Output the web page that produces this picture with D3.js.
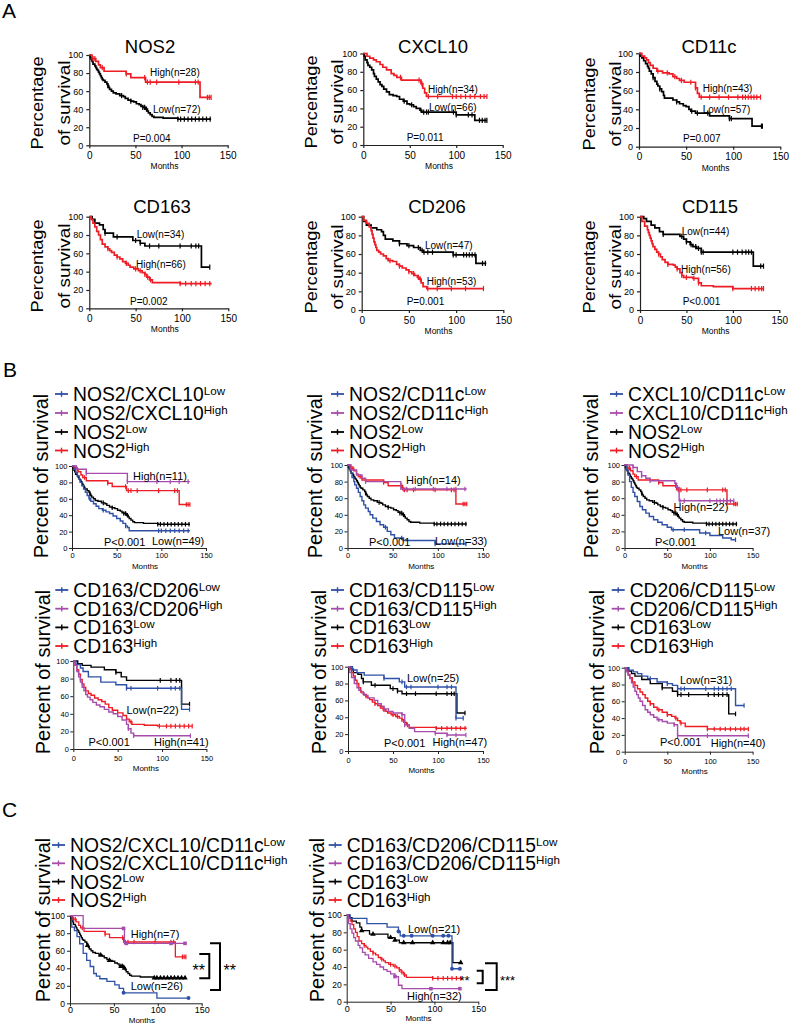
<!DOCTYPE html>
<html><head><meta charset="utf-8">
<script src="https://cdn.jsdelivr.net/npm/d3@7/dist/d3.min.js"></script>
<style>body{margin:0;background:#fff}svg{display:block}text{font-family:"Liberation Sans",Arial,sans-serif;fill:#000}</style>
</head><body><svg id="c" width="789" height="1025"></svg>
<script>
// ---------------- DATA ----------------
const xTicks = [0, 50, 100, 150];
const yTicks = [0, 20, 40, 60, 80, 100];
const sectionLetters = ["A", "B", "C"];

const titlesA = ["NOS2", "CXCL10", "CD11c", "CD163", "CD206", "CD115"];
const pTextsA = ["P=0.004", "P=0.011", "P=0.007", "P=0.002", "P=0.001", "P<0.001"];
const highLabelsA = ["High(n=28)", "High(n=34)", "High(n=43)", "High(n=66)", "High(n=53)", "High(n=56)"];
const lowLabelsA = ["Low(n=72)", "Low(n=66)", "Low(n=57)", "Low(n=34)", "Low(n=47)", "Low(n=44)"];

const legendNamesB = [["NOS2/CXCL10", "NOS2"], ["NOS2/CD11c", "NOS2"], ["CXCL10/CD11c", "NOS2"],
                      ["CD163/CD206", "CD163"], ["CD163/CD115", "CD163"], ["CD206/CD115", "CD163"]];
const highLabelsB = ["High(n=11)", "High(n=14)", "High(n=22)", "High(n=41)", "High(n=47)", "High(n=40)"];
const lowLabelsB = ["Low(n=49)", "Low(n=33)", "Low(n=37)", "Low(n=22)", "Low(n=25)", "Low(n=31)"];
const pTextsB = ["P<0.001", "P<0.001", "P<0.001", "P<0.001", "P<0.001", "P<0.001"];

const legendNamesC = [["NOS2/CXCL10/CD11c", "NOS2"], ["CD163/CD206/CD115", "CD163"]];
const highLabelsC = ["High(n=7)", "High(n=32)"];
const lowLabelsC = ["Low(n=26)", "Low(n=21)"];
const sigC = [["**", "**"], ["**", "***"]];

// Kaplan-Meier steps: [month, % survival]
const nos2High = [[0,100],[3,96],[7,93],[10,89],[12,86],[16,82],[40,79],[45,75],[61,70],[120,53],[132,53]];
const nos2HighCens = [4,6,14,40,60,63,66,73,97,115,118,128,130,132];
const nos2Low = [[0,100],[1,97],[2,95],[3,93],[4,90],[6,88],[7,86],[8,84],[9,83],[10,81],[11,79],[12,77],[13,75],[14,73],[15,72],[17,70],[19,68],[20,66],[21,64],[22,62],[24,60],[26,58],[29,57],[33,55],[37,54],[39,52],[42,50],[45,49],[48,48],[51,46],[54,45],[56,43],[58,42],[61,40],[63,38],[64,36],[66,34],[68,32],[70,31],[80,30],[96,29],[132,29]];
const nos2LowCens = [20,35,45,58,60,62,96,99,103,107,111,115,119,123,127,131];

const cxHigh = [[0,100],[4,97],[7,95],[11,93],[14,91],[18,88],[21,85],[25,82],[30,78],[33,76],[36,74],[41,71],[62,67],[64,62],[66,57],[68,53],[133,53]];
const cxHighCens = [40,60,63,70,80,96,100,105,110,115,120,126,130,133];
const cxLow = [[0,100],[1,97],[2,93],[4,90],[5,87],[7,85],[9,82],[11,78],[12,75],[14,72],[16,69],[18,66],[20,64],[22,61],[25,58],[28,55],[32,54],[36,53],[39,50],[43,48],[47,45],[50,44],[54,42],[57,40],[61,38],[63,36],[100,33],[120,27],[133,27]];
const cxLowCens = [44,52,62,65,68,70,97,100,113,117,125,128,131,133];

const cd11High = [[0,100],[3,97],[6,95],[8,93],[10,90],[12,87],[15,84],[19,81],[25,79],[32,78],[36,75],[40,73],[43,71],[48,69],[60,63],[62,57],[64,53],[129,53]];
const cd11HighCens = [20,30,38,45,55,60,66,75,85,95,105,110,113,116,119,122,125,129];
const cd11Low = [[0,100],[1,97],[3,95],[5,92],[7,89],[9,86],[10,84],[11,81],[13,78],[15,74],[17,70],[19,67],[20,65],[22,62],[24,59],[26,55],[27,52],[36,50],[40,48],[43,46],[47,44],[50,43],[53,40],[55,38],[60,36],[75,33],[96,30],[120,22],[131,22]];
const cd11LowCens = [15,22,40,56,62,73,96,98,130,131];

const cd163Low = [[0,100],[3,97],[6,93],[11,91],[15,86],[17,82],[26,78],[47,74],[55,71],[60,68],[121,45],[130,45]];
const cd163LowCens = [17,30,50,55,65,75,98,110,115,118,130];
const cd163High = [[0,100],[2,97],[4,93],[6,89],[8,84],[10,80],[12,75],[14,70],[17,67],[20,65],[22,63],[24,61],[27,58],[30,56],[33,54],[36,51],[39,49],[42,47],[44,45],[48,43],[53,41],[57,39],[60,37],[62,34],[65,31],[68,28],[98,27],[132,27]];
const cd163HighCens = [20,30,40,50,55,60,63,66,98,104,110,115,120,125,130];

const cd206Low = [[0,100],[2,95],[5,91],[10,88],[16,86],[21,84],[23,80],[25,76],[33,74],[40,71],[48,69],[55,67],[62,64],[65,62],[97,59],[121,50],[132,50]];
const cd206LowCens = [40,50,60,64,66,70,75,97,100,108,111,114,117,120,128,131];
const cd206High = [[0,100],[2,96],[5,93],[8,89],[10,85],[11,81],[12,77],[13,73],[14,70],[15,67],[16,64],[18,62],[20,60],[23,58],[26,55],[28,53],[33,52],[37,49],[40,47],[43,45],[47,43],[50,41],[53,39],[56,37],[59,35],[61,33],[63,29],[65,25],[69,23],[129,23]];
const cd206HighCens = [30,40,50,55,60,62,70,80,95,110,129];

const cd115Low = [[0,100],[4,98],[7,95],[12,91],[16,88],[21,84],[25,81],[43,79],[47,76],[50,73],[54,70],[57,68],[61,66],[66,62],[122,47],[133,47]];
const cd115LowCens = [25,45,50,55,60,63,66,68,100,105,110,114,117,120,130,133];
const cd115High = [[0,100],[2,95],[5,90],[8,86],[9,83],[10,80],[11,77],[12,74],[13,71],[14,68],[16,65],[18,62],[20,60],[22,57],[24,54],[27,51],[30,49],[36,48],[38,46],[40,44],[43,40],[45,37],[47,35],[57,34],[63,29],[66,26],[79,25],[100,23],[133,23]];
const cd115HighCens = [20,30,40,45,50,58,63,100,120,124,128,131,133];

const b1High = [[0,100],[5,96],[16,91],[62,81],[132,81]];
const b1HighCens = [16,62,95,110,120,130];
const b1Low = [[0,100],[2,96],[4,92],[6,88],[8,84],[9,80],[11,76],[13,72],[15,68],[17,64],[19,60],[21,57],[24,54],[27,51],[30,48],[34,46],[38,44],[42,42],[46,39],[50,36],[54,33],[57,30],[60,27],[62,25],[64,21],[132,21]];
const b1LowCens = [20,35,60,97,100,105,110,115,120,125,130];

const b2High = [[0,100],[4,94],[10,88],[16,84],[20,80],[59,71],[132,71]];
const b2HighCens = [20,62,65,75,95,110,120,130];
const b2Low = [[0,100],[2,95],[4,90],[5,85],[7,80],[8,76],[10,72],[12,67],[14,62],[16,57],[18,52],[20,48],[23,44],[25,40],[28,36],[32,32],[36,28],[40,25],[44,20],[48,16],[52,12],[62,9],[97,5],[132,5]];
const b2LowCens = [42,60,97,131];

const b3High = [[0,100],[10,97],[15,92],[20,87],[25,84],[30,81],[59,78],[61,73],[64,57],[128,57]];
const b3HighCens = [10,20,30,62,65,70,100,108,112,116,120,124,128];
const b3Low = [[0,100],[2,94],[4,88],[6,80],[8,73],[10,67],[12,62],[15,56],[18,50],[21,46],[25,42],[29,38],[34,34],[39,31],[44,28],[50,25],[55,22],[88,18],[100,15],[115,12],[125,10],[130,10]];
const b3LowCens = [57,70,95,130];

const b4Low = [[0,100],[3,96],[8,92],[11,88],[17,82],[31,76],[48,73],[60,69],[122,45],[131,45]];
const b4LowCens = [60,65,95,110,115,120,131];
const b4Ref = [[0,100],[5,97],[10,95],[20,93],[35,90],[48,87],[54,82],[60,78],[122,51],[131,51]];
const b4RefCens = [48,98,110,116,120,131];
const b4RefHigh = [[0,100],[2,95],[4,90],[6,85],[8,79],[10,74],[12,70],[14,66],[17,63],[20,61],[24,58],[28,56],[32,54],[36,51],[40,47],[44,44],[50,41],[56,38],[60,34],[63,31],[66,28],[80,27],[95,26],[134,26]];
const b4RefHighCens = [60,65,97,105,110,115,120,125,130,134];
const b4High = [[0,100],[2,95],[4,88],[6,82],[8,76],[10,70],[12,66],[14,62],[16,59],[19,56],[22,53],[26,50],[30,48],[35,45],[40,42],[45,40],[50,37],[55,33],[60,28],[62,23],[65,18],[68,15],[132,15]];
const b4HighCens = [62,68,132];

const b5Low = [[0,100],[5,96],[10,93],[18,90],[40,86],[57,82],[63,76],[120,39],[128,39]];
const b5LowCens = [40,60,65,70,100,110,115,120,128];
const b5High = [[0,100],[2,93],[4,87],[7,80],[10,75],[12,72],[15,69],[18,66],[22,63],[29,60],[33,56],[37,53],[40,50],[45,47],[50,45],[60,43],[63,31],[68,27],[74,23],[97,21],[110,19],[131,19]];
const b5HighCens = [40,60,63,97,110,120,131];

const b6Low = [[0,100],[5,97],[10,95],[15,93],[20,90],[27,87],[38,83],[50,81],[56,79],[62,75],[130,55],[140,55]];
const b6LowCens = [30,50,62,66,70,95,105,110,115,120,125,140];
const b6Ref = [[0,100],[4,96],[8,93],[12,90],[20,86],[30,81],[44,76],[56,72],[62,68],[122,45],[130,45]];
const b6RefCens = [44,62,66,75,98,105,110,115,120,130];
const b6RefHigh = [[0,100],[2,96],[4,92],[6,88],[9,83],[12,79],[15,75],[18,71],[21,68],[24,64],[27,60],[30,57],[34,53],[38,50],[44,47],[50,44],[55,42],[59,40],[62,37],[65,34],[71,30],[97,27],[145,27]];
const b6RefHighCens = [30,40,50,60,66,97,105,112,118,124,130,136,140,145];
const b6High = [[0,100],[2,95],[4,91],[6,87],[8,82],[10,77],[12,72],[14,68],[16,64],[18,60],[21,55],[24,50],[27,47],[30,44],[34,41],[38,38],[44,36],[50,34],[58,32],[62,19],[145,19]];
const b6HighCens = [40,58,62,97,145];

const c1High = [[0,100],[15,85.5],[62,68.4],[131,68.4]];
const c1HighCens = [61,64,115,131];
const c1Low = [[0,100],[2,87],[5,83],[8,76],[11,68],[15,57],[19,49],[23,42],[27,34],[30,31],[34,28],[42,25],[51,21],[56,17],[61,12],[99,6],[135,6]];
const c1LowCens = [61,135];

const c2Low = [[0,100],[4,96],[23,90],[46,86],[59,81],[61,76],[120,38],[129,38]];
const c2LowCens = [59,65,74,98,110,116,120,129];
const c2High = [[0,100],[2,90],[4,84],[6,79],[8,74],[10,70],[13,65],[15,62],[18,57],[21,54],[25,50],[30,46],[34,43],[38,40],[42,37],[46,35],[50,32],[55,29],[59,19],[63,15],[129,15]];
const c2HighCens = [55,96,129];

// ---------------- DRAWING ----------------
const svg = d3.select("#c");
const RED = "#ee1c24", BLK = "#000000", BLUE = "#2e50a6", PURP = "#a64cab";
const FONT = '"Liberation Sans", Arial, sans-serif';

function sAt(pts, t) { let v = pts[0][1]; for (const p of pts) { if (p[0] <= t) v = p[1]; else break; } return v; }

function drawPanel(cfg, st) {
  const g = svg.append("g");
  const x = d3.scaleLinear().domain([0, 150]).range([cfg.x0, cfg.x1]);
  const y = d3.scaleLinear().domain([0, 100]).range([cfg.yBot, cfg.yTop]);
  const ax = g.append("g").attr("transform", `translate(0,${cfg.yBot})`)
    .call(d3.axisBottom(x).tickValues(xTicks).tickSize(3).tickSizeOuter(0)
      .tickPadding(st.xOff - 3 - 0.71 * st.xFs));
  const ay = g.append("g").attr("transform", `translate(${cfg.x0},0)`)
    .call(d3.axisLeft(y).tickValues(yTicks).tickSize(3).tickSizeOuter(0).tickPadding(st.yPad));
  [ax, ay].forEach(a => {
    a.select(".domain").attr("stroke", "#222").attr("stroke-width", st.axW);
    a.selectAll(".tick line").attr("stroke", "#222").attr("stroke-width", st.axW);
    a.selectAll("text").attr("font-family", FONT).attr("fill", "#111");
  });
  ax.selectAll("text").attr("font-size", st.xFs);
  ay.selectAll("text").attr("font-size", st.yFs);
  g.append("text").attr("x", (cfg.x0 + cfg.x1) / 2 + 6).attr("y", cfg.yBot + st.mOff)
    .attr("text-anchor", "middle").attr("font-size", st.mFs).text("Months");

  const line = d3.line().x(d => x(d[0])).y(d => y(d[1])).curve(d3.curveStepAfter);
  cfg.curves.forEach(c => {
    g.append("path").attr("d", line(c.pts)).attr("fill", "none")
      .attr("stroke", c.color).attr("stroke-width", st.lw);
    c.cens.forEach(t => {
      const cx = x(t), cy = y(sAt(c.pts, t));
      if (st.sym && c.sym) {
        g.append("path").attr("transform", `translate(${cx},${cy})`)
          .attr("d", d3.symbol().type(c.sym).size(c.sym === d3.symbolCircle ? 12 : 13)())
          .attr("fill", c.color);
      } else {
        g.append("line").attr("x1", cx).attr("x2", cx).attr("y1", cy - st.ch).attr("y2", cy + st.ch)
          .attr("stroke", c.color).attr("stroke-width", 1.2);
      }
    });
  });
  return { x, y };
}

function txt(x, y, s, fs, anchor) {
  return svg.append("text").attr("x", x).attr("y", y).attr("font-size", fs)
    .attr("text-anchor", anchor || "start").text(s);
}
function vlabel(x, cy, s, fs, len) {
  const t = svg.append("text").attr("transform", `translate(${x},${cy}) rotate(-90)`)
    .attr("text-anchor", "middle").attr("font-size", fs).text(s);
  if (len) t.attr("textLength", len).attr("lengthAdjust", "spacingAndGlyphs");
  return t;
}
function legend(xText, bases, items) {
  items.forEach((it, i) => {
    const b = bases[i], ly = b - 7;
    svg.append("line").attr("x1", xText - 18).attr("x2", xText - 5).attr("y1", ly).attr("y2", ly)
      .attr("stroke", it.color).attr("stroke-width", 1.8);
    svg.append("line").attr("x1", xText - 11.5).attr("x2", xText - 11.5).attr("y1", ly - 2.8).attr("y2", ly + 2.8)
      .attr("stroke", it.color).attr("stroke-width", 1.4);
    const t = svg.append("text").attr("x", xText).attr("y", b).attr("font-size", 19.3);
    t.append("tspan").text(it.main);
    t.append("tspan").attr("font-size", 11.6).attr("dy", -6.5).text(it.sup);
  });
}

// Section letters
txt(2, 18, sectionLetters[0], 21);
txt(3, 377, sectionLetters[1], 21);
txt(2, 817, sectionLetters[2], 21);

// ---- Section A ----
const stA = { xFs: 10, yFs: 9, mFs: 8.5, xOff: 13.5, mOff: 24, yPad: 3, axW: 1.2, lw: 1.7, ch: 2.6 };
const layA = [
  { x0: 89.3, x1: 227.7, yTop: 55, yBot: 145.3, tx: 150, ty: 53, hi: [150, 75.5], lo: [153, 113], p: [133, 141.7], yl: [43, 70, 103] },
  { x0: 363.3, x1: 502.7, yTop: 53.5, yBot: 145, tx: 433, ty: 53, hi: [428, 92.5], lo: [429, 111], p: [406.7, 141], yl: [317, 343, 102] },
  { x0: 639, x1: 780.3, yTop: 53.3, yBot: 146.7, tx: 709, ty: 53, hi: [702.7, 91.5], lo: [702.7, 113], p: [683, 142], yl: [595, 621, 104] },
  { x0: 89.3, x1: 228.3, yTop: 216.7, yBot: 308.3, tx: 162, ty: 213, hi: [136, 267.7], lo: [136.7, 238], p: [130, 305], yl: [43, 70, 266] },
  { x0: 361.7, x1: 503.3, yTop: 216.7, yBot: 310, tx: 437, ty: 213, hi: [426.7, 285], lo: [425, 249], p: [406.7, 305], yl: [317, 343, 267] },
  { x0: 640, x1: 779.3, yTop: 216.7, yBot: 310, tx: 710, ty: 213, hi: [681, 273], lo: [681.7, 235], p: [682.7, 305], yl: [595, 621, 267] }
];
const curvesA = [
  [[nos2Low, nos2LowCens, BLK], [nos2High, nos2HighCens, RED]],
  [[cxLow, cxLowCens, BLK], [cxHigh, cxHighCens, RED]],
  [[cd11Low, cd11LowCens, BLK], [cd11High, cd11HighCens, RED]],
  [[cd163Low, cd163LowCens, BLK], [cd163High, cd163HighCens, RED]],
  [[cd206Low, cd206LowCens, BLK], [cd206High, cd206HighCens, RED]],
  [[cd115Low, cd115LowCens, BLK], [cd115High, cd115HighCens, RED]]
];
layA.forEach((L, i) => {
  drawPanel({ ...L, curves: curvesA[i].map(c => ({ pts: c[0], cens: c[1], color: c[2] })) }, stA);
  txt(L.tx, L.ty, titlesA[i], 18.5, "middle");
  txt(L.hi[0], L.hi[1], highLabelsA[i], 10);
  txt(L.lo[0], L.lo[1], lowLabelsA[i], 10);
  txt(L.p[0], L.p[1], pTextsA[i], 10);
  vlabel(L.yl[0], L.yl[2], "Percentage", 16, 93);
  vlabel(L.yl[1], L.yl[2], "of survival", 16, 85);
});

// ---- Section B ----
const stB1 = { xFs: 7.5, yFs: 7.5, mFs: 8, xOff: 10, mOff: 21, yPad: 1.5, axW: 1, lw: 1.4, ch: 2.3 };
const stB2 = { ...stB1, xOff: 12, mOff: 22 };
const layB = [
  { x0: 72, x1: 206, yTop: 466, yBot: 548, lg: 73, hi: [133, 480], lo: [152, 545], p: [104, 546], yl: [48, 476] },
  { x0: 347.5, x1: 483, yTop: 465, yBot: 548, lg: 349, hi: [406, 484], lo: [435, 545], p: [369, 546], yl: [322, 476] },
  { x0: 624.5, x1: 752.6, yTop: 465, yBot: 548, lg: 628, hi: [673.6, 510.5], lo: [718, 535], p: [655, 546], yl: [598, 476] },
  { x0: 73.3, x1: 206.4, yTop: 661, yBot: 749, lg: 73.3, hi: [154, 746], lo: [126.5, 714], p: [88.5, 746], yl: [50, 672] },
  { x0: 348, x1: 483, yTop: 666.7, yBot: 751, lg: 349, hi: [432.5, 746], lo: [407, 682], p: [384, 747], yl: [326, 672] },
  { x0: 624.7, x1: 752.6, yTop: 667.7, yBot: 751.7, lg: 629.7, hi: [710.7, 747], lo: [680, 684], p: [660, 746], yl: [604, 672] }
];
const curvesB = [
  [[nos2Low, nos2LowCens, BLK], [nos2High, nos2HighCens, RED], [b1Low, b1LowCens, BLUE], [b1High, b1HighCens, PURP]],
  [[nos2Low, nos2LowCens, BLK], [nos2High, nos2HighCens, RED], [b2Low, b2LowCens, BLUE], [b2High, b2HighCens, PURP]],
  [[nos2Low, nos2LowCens, BLK], [nos2High, nos2HighCens, RED], [b3Low, b3LowCens, BLUE], [b3High, b3HighCens, PURP]],
  [[b4Ref, b4RefCens, BLK], [b4RefHigh, b4RefHighCens, RED], [b4Low, b4LowCens, BLUE], [b4High, b4HighCens, PURP]],
  [[cd163Low, cd163LowCens, BLK], [cd163High, cd163HighCens, RED], [b5Low, b5LowCens, BLUE], [b5High, b5HighCens, PURP]],
  [[b6Ref, b6RefCens, BLK], [b6RefHigh, b6RefHighCens, RED], [b6Low, b6LowCens, BLUE], [b6High, b6HighCens, PURP]]
];
const legBase1 = [401, 420, 439, 457.5], legBase2 = [597, 615.7, 634.4, 653];
layB.forEach((L, i) => {
  drawPanel({ ...L, curves: curvesB[i].map(c => ({ pts: c[0], cens: c[1], color: c[2] })) }, i < 3 ? stB1 : stB2);
  const nm = legendNamesB[i];
  legend(L.lg, i < 3 ? legBase1 : legBase2, [
    { color: BLUE, main: nm[0], sup: "Low" }, { color: PURP, main: nm[0], sup: "High" },
    { color: BLK, main: nm[1], sup: "Low" }, { color: RED, main: nm[1], sup: "High" }]);
  txt(L.hi[0], L.hi[1], highLabelsB[i], 11);
  txt(L.lo[0], L.lo[1], lowLabelsB[i], 11);
  txt(L.p[0], L.p[1], pTextsB[i], 11);
  vlabel(L.yl[0], L.yl[1], "Percent of survival", 20);
});

// ---- Section C ----
const stC = { xFs: 9, yFs: 8.5, mFs: 8, xOff: 10, mOff: 19.5, yPad: 2, axW: 1, lw: 1.3, ch: 2.3, sym: true };
const layC = [
  { x0: 70, x1: 201.7, yTop: 915.7, yBot: 1003.3, lg: 70, hi: [130.7, 937.5], lo: [130.7, 990], yl: [50, 920] },
  { x0: 346.7, x1: 478.3, yTop: 915, yBot: 1001.7, lg: 346.7, hi: [407, 1000], lo: [408, 933], yl: [324, 920] }
];
const curvesC = [
  [[nos2Low, nos2LowCens, BLK, d3.symbolTriangle], [nos2High, nos2HighCens, RED, null],
   [c1Low, c1LowCens, BLUE, d3.symbolCircle], [c1High, c1HighCens, PURP, d3.symbolSquare]],
  [[cd163Low, cd163LowCens, BLK, d3.symbolTriangle], [cd163High, cd163HighCens, RED, null],
   [c2Low, c2LowCens, BLUE, d3.symbolCircle], [c2High, c2HighCens, PURP, d3.symbolSquare]]
];
const legBaseC = [852, 870.3, 888.6, 907];
layC.forEach((L, i) => {
  drawPanel({ ...L, curves: curvesC[i].map(c => ({ pts: c[0], cens: c[1], color: c[2], sym: c[3] })) }, stC);
  const nm = legendNamesC[i];
  legend(L.lg, legBaseC, [
    { color: BLUE, main: nm[0], sup: "Low" }, { color: PURP, main: nm[0], sup: "High" },
    { color: BLK, main: nm[1], sup: "Low" }, { color: RED, main: nm[1], sup: "High" }]);
  txt(L.hi[0], L.hi[1], highLabelsC[i], 11);
  txt(L.lo[0], L.lo[1], lowLabelsC[i], 11);
  vlabel(L.yl[0], L.yl[1], "Percent of survival", 20);
});

// significance brackets
function bracket(xL, xR, yT, yB, w) {
  svg.append("path").attr("d", `M${xL},${yT}H${xR}V${yB}H${xL}`).attr("fill", "none")
    .attr("stroke", "#000").attr("stroke-width", w);
}
bracket(199.3, 209.3, 954, 978.3, 2);
bracket(210, 220, 943.3, 990, 2);
svg.append("text").attr("x", 192.5).attr("y", 976).attr("font-size", 16).attr("font-family", "DejaVu Sans").text(sigC[0][0]);
svg.append("text").attr("x", 223.5).attr("y", 976).attr("font-size", 16).attr("font-family", "DejaVu Sans").text(sigC[0][1]);
bracket(476.7, 482.7, 970.7, 983.3, 2);
bracket(485, 496.7, 963.3, 990, 2);
svg.append("text").attr("x", 459.5).attr("y", 985).attr("font-size", 13).attr("font-family", "DejaVu Sans").text(sigC[1][0]);
svg.append("text").attr("x", 500).attr("y", 985).attr("font-size", 13).attr("font-family", "DejaVu Sans").text(sigC[1][1]);
</script></body></html>
